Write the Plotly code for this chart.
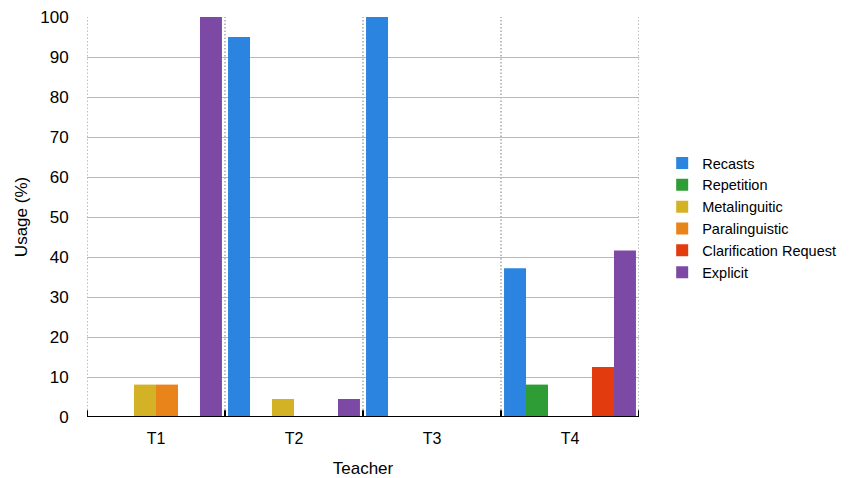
import plotly.graph_objects as go

teachers = ["T1", "T2", "T3", "T4"]
series_names = ["Recasts", "Repetition", "Metalinguitic", "Paralinguistic",
                "Clarification Request", "Explicit"]
recasts = [0, 95, 100, 37.2]
repetition = [0, 0, 0, 8.1]
metalinguitic = [8.1, 4.5, 0, 0]
paralinguistic = [8.1, 0, 0, 0]
clarification = [0, 0, 0, 12.5]
explicit = [100, 4.5, 0, 41.6]
y_ticks = [0, 10, 20, 30, 40, 50, 60, 70, 80, 90, 100]

colors = ["#2a84e0", "#2f9d35", "#d4b226", "#e9841a", "#e23c0e", "#7c4aa4"]
values = [recasts, repetition, metalinguitic, paralinguistic, clarification, explicit]

FONT = "Liberation Sans, Arial, Helvetica, sans-serif"

fig = go.Figure()
for name, vals, col in zip(series_names, values, colors):
    fig.add_trace(go.Bar(
        x=teachers, y=vals, name=name,
        marker=dict(color=col, line=dict(width=0)),
    ))

shapes = []
# dotted separators between teacher groups
for i in range(len(teachers) + 1):
    shapes.append(dict(type="line", xref="x", yref="paper",
                       x0=i - 0.5, x1=i - 0.5, y0=0, y1=1,
                       line=dict(color="#a8a8a8", width=1.5, dash="1.5px,2px"),
                       layer="below"))
    # cross-shaped tick marks on the baseline
    shapes.append(dict(type="line", xref="x", yref="y",
                       x0=i - 0.5, x1=i - 0.5, y0=-1.7, y1=1.7,
                       line=dict(color="black", width=2), layer="above"))
# baseline
shapes.append(dict(type="line", xref="paper", yref="y", x0=0, x1=1, y0=0, y1=0,
                   line=dict(color="black", width=2), layer="above"))

fig.update_layout(
    width=849, height=478,
    margin=dict(l=87, r=210, t=17, b=61, autoexpand=False),
    paper_bgcolor="white", plot_bgcolor="white",
    barmode="group", bargap=0.044, bargroupgap=0,
    font=dict(family=FONT, color="black"),
    shapes=shapes,
    showlegend=True,
    legend=dict(x=1.042, y=0.675, xanchor="left", yanchor="top",
                font=dict(size=14.5, family=FONT), tracegroupgap=0,
                itemwidth=30, bgcolor="rgba(0,0,0,0)"),
    xaxis=dict(range=[-0.5, 3.5], showgrid=False, showline=False, zeroline=False,
               automargin=False,
               tickfont=dict(size=16), ticks="outside", ticklen=7,
               tickcolor="rgba(0,0,0,0)",
               title=dict(text="Teacher", font=dict(size=17), standoff=24)),
    yaxis=dict(range=[0, 100], tickvals=y_ticks, showgrid=True,
               automargin=False,
               gridcolor="#b9b9b9", gridwidth=1, zeroline=False, showline=False,
               tickfont=dict(size=17), ticks="outside", ticklen=14,
               tickcolor="rgba(0,0,0,0)",
               title=dict(text="Usage (%)", font=dict(size=17), standoff=8)),
)

fig.write_html("out.html")
